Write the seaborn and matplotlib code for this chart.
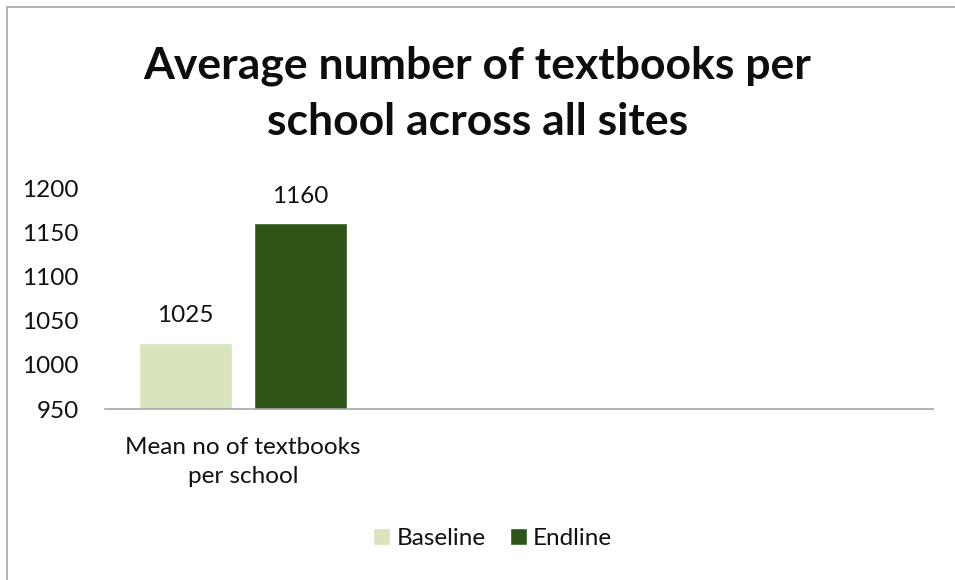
import matplotlib
matplotlib.use("Agg")
import matplotlib.pyplot as plt
from matplotlib.patches import Rectangle
import seaborn as sns
import pandas as pd

# Data
categories = ["Mean no of textbooks\nper school"]
series = ["Baseline", "Endline"]
baseline_values = [1025]
endline_values = [1160]
y_ticks = [950, 1000, 1050, 1100, 1150, 1200]
colors = {"Baseline": "#D7E4BD", "Endline": "#2F5418"}

df = pd.DataFrame({
    "category": categories * 2,
    "series": ["Baseline"] * len(categories) + ["Endline"] * len(categories),
    "value": baseline_values + endline_values,
})

sns.set_theme(style="white")
plt.rcParams["font.family"] = ["Lato", "DejaVu Sans"]

fig = plt.figure(figsize=(9.55, 5.80), dpi=100)
ax = fig.add_axes([0.110, 0.2948, 0.867, 0.381])

sns.barplot(data=df, x="category", y="value", hue="series", hue_order=series,
            palette=colors, width=0.833, gap=0.19, ax=ax, legend=True,
            saturation=1, errorbar=None)

ax.set_ylim(950, 1200)
ax.set_yticks(y_ticks)
ax.set_xlim(-0.5, 2.5)
ax.set_xlabel("")
ax.set_ylabel("")

for s in ["top", "right", "left"]:
    ax.spines[s].set_visible(False)
ax.spines["bottom"].set_color("#A6A6A6")
ax.spines["bottom"].set_linewidth(1.2)
ax.tick_params(axis="y", length=0, pad=19, labelsize=17.5, labelcolor="#111111")
ax.tick_params(axis="x", length=0, pad=20, labelsize=17.5, labelcolor="#111111")
for lbl in ax.get_xticklabels():
    lbl.set_linespacing(1.5)

for cont, vals in zip(ax.containers, [baseline_values, endline_values]):
    ax.bar_label(cont, labels=[str(v) for v in vals], padding=12,
                 fontsize=17.5, color="#111111")

handles, labels = ax.get_legend_handles_labels()
ax.legend_.remove()
fig.legend(handles, labels, loc="center", bbox_to_anchor=(0.516, 0.0724),
           ncol=2, frameon=False, fontsize=17.5, handlelength=0.7,
           handleheight=0.7, handletextpad=0.25, columnspacing=1.0,
           labelcolor="#111111")

fig.suptitle("Average number of textbooks per\nschool across all sites",
             x=0.5, y=0.921, fontsize=32, fontweight="bold", color="#0d0d0d",
             linespacing=1.49, va="top")

# Chart area frame
fig.patches.append(Rectangle((7 / 955, -0.1), 1.1, 1 - 7 / 580 + 0.1,
                             transform=fig.transFigure, fill=False,
                             edgecolor="#A6A6A6", linewidth=1.2))

fig.savefig("out.png", dpi=100)
